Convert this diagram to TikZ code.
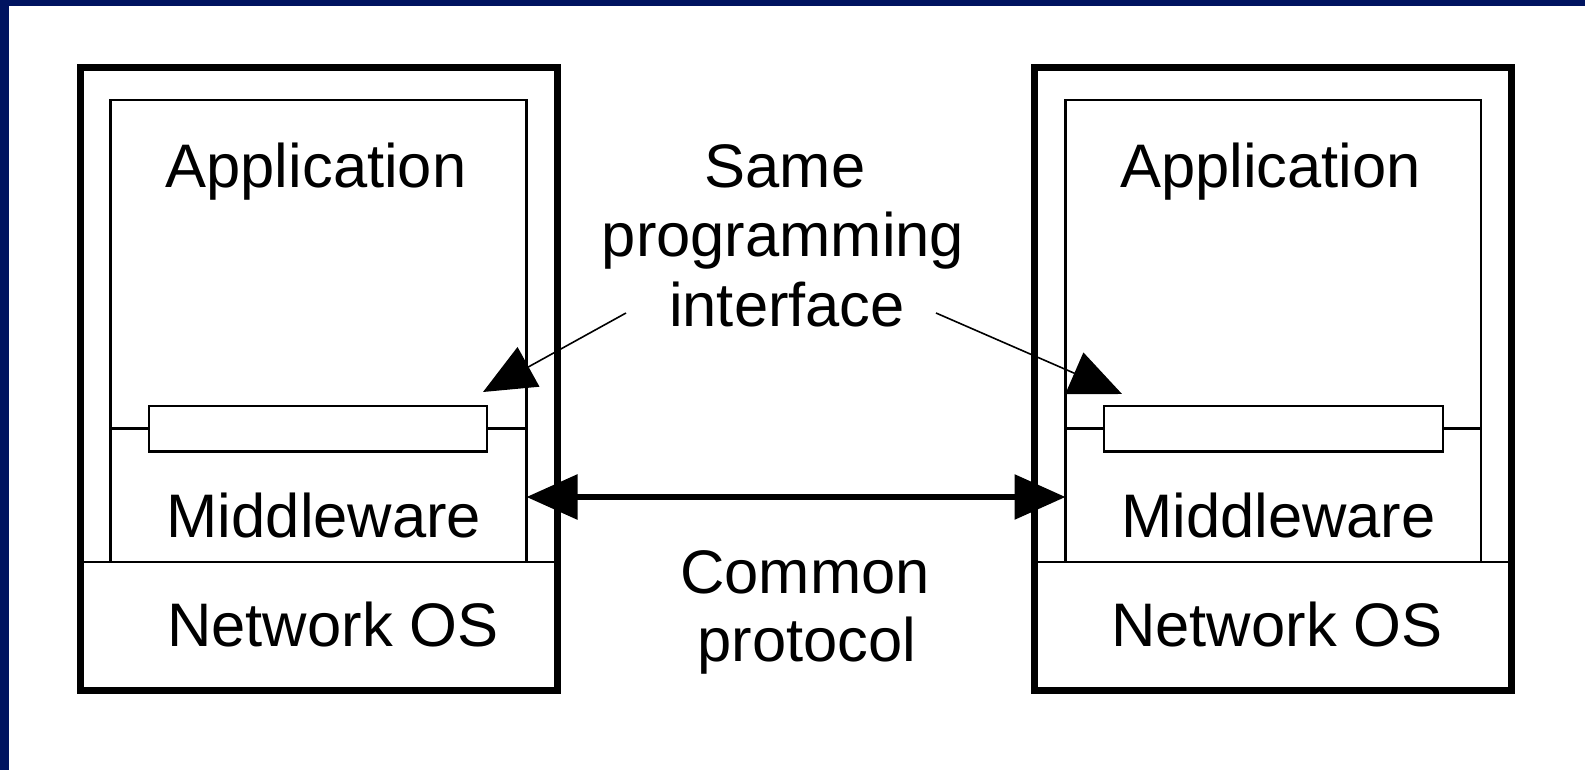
\documentclass[tikz,border=0pt]{standalone}
\usepackage{fontspec}
\setmainfont{Liberation Sans}
\usetikzlibrary{arrows.meta}
\definecolor{navy}{RGB}{0,20,96}
\begin{document}
\begin{tikzpicture}[x=1pt,y=-1pt,
  frame/.style={draw, line width=7pt, line join=miter},
  layer/.style={draw, line width=2.6pt},
  box/.style={layer, rectangle, inner sep=0pt, outer sep=0pt, anchor=north west},
  lbl/.style={anchor=base, inner sep=0pt, font=\fontsize{61.5}{69}\selectfont},
  apiarrow/.style={line width=1.6pt, -{Triangle[length=52pt,width=45pt]}},
  protoarrow/.style={line width=6pt,
    {Triangle[length=51pt,width=44pt]}-{Triangle[length=51pt,width=44pt]}}]
\useasboundingbox (0,0) rectangle (1585,770);
\fill[white] (0,0) rectangle (1585,770);
\fill[navy] (0,0) rectangle (1585,6);
\fill[navy] (0,0) rectangle (8.5,770);

% ---- left host ----
\node[box, minimum width=416pt, minimum height=462pt] (mwL) at (110.5,100) {};
\node[box, minimum width=338pt, minimum height=45.5pt] (apiL) at (149,406) {};
\draw[layer] (mwL.west |- apiL.west) -- (apiL.west);
\draw[layer] (apiL.east) -- (mwL.east |- apiL.east);
\draw[layer] (80.5,562) -- (557,562);
\node[frame, rectangle, inner sep=0pt, outer sep=0pt, anchor=north west,
      minimum width=476.5pt, minimum height=622.5pt] (hostL) at (80.5,68) {};
\node[lbl] (appL) at (316,188) {Application};
\node[lbl] (midL) at (324,537) {Middleware};
\node[lbl] (nosL) at (333,646) {Network OS};

% ---- right host ----
\node[box, minimum width=415.5pt, minimum height=462pt] (mwR) at (1065.5,100) {};
\node[box, minimum width=339pt, minimum height=45.5pt] (apiR) at (1104,406) {};
\draw[layer] (mwR.west |- apiR.west) -- (apiR.west);
\draw[layer] (apiR.east) -- (mwR.east |- apiR.east);
\draw[layer] (1034,562) -- (1511,562);
\node[frame, rectangle, inner sep=0pt, outer sep=0pt, anchor=north west,
      minimum width=477pt, minimum height=622.5pt] (hostR) at (1034,68) {};
\node[lbl] (appR) at (1270.5,188) {Application};
\node[lbl] (midR) at (1278.5,537) {Middleware};
\node[lbl] (nosR) at (1277,646) {Network OS};

% ---- middle labels ----
\node[lbl] (same1) at (785,188) {Same};
\node[lbl] (same2) at (783,257) {programming};
\node[lbl] (same3) at (787,326) {interface};
\node[lbl] (comm1) at (805,593) {Common};
\node[lbl] (comm2) at (807,661) {protocol};

% ---- connectors ----
\coordinate (level) at (0,497);
\draw[protoarrow] (mwL.east |- level) -- (mwR.west |- level);

\coordinate (ifL) at (626,313);
\coordinate (tipL) at (483,392);
\coordinate (ifR) at (936,313);
\coordinate (tipR) at (1122,394);
\draw[apiarrow] (ifL) -- (tipL);
\draw[apiarrow] (ifR) -- (tipR);
\end{tikzpicture}
\end{document}
